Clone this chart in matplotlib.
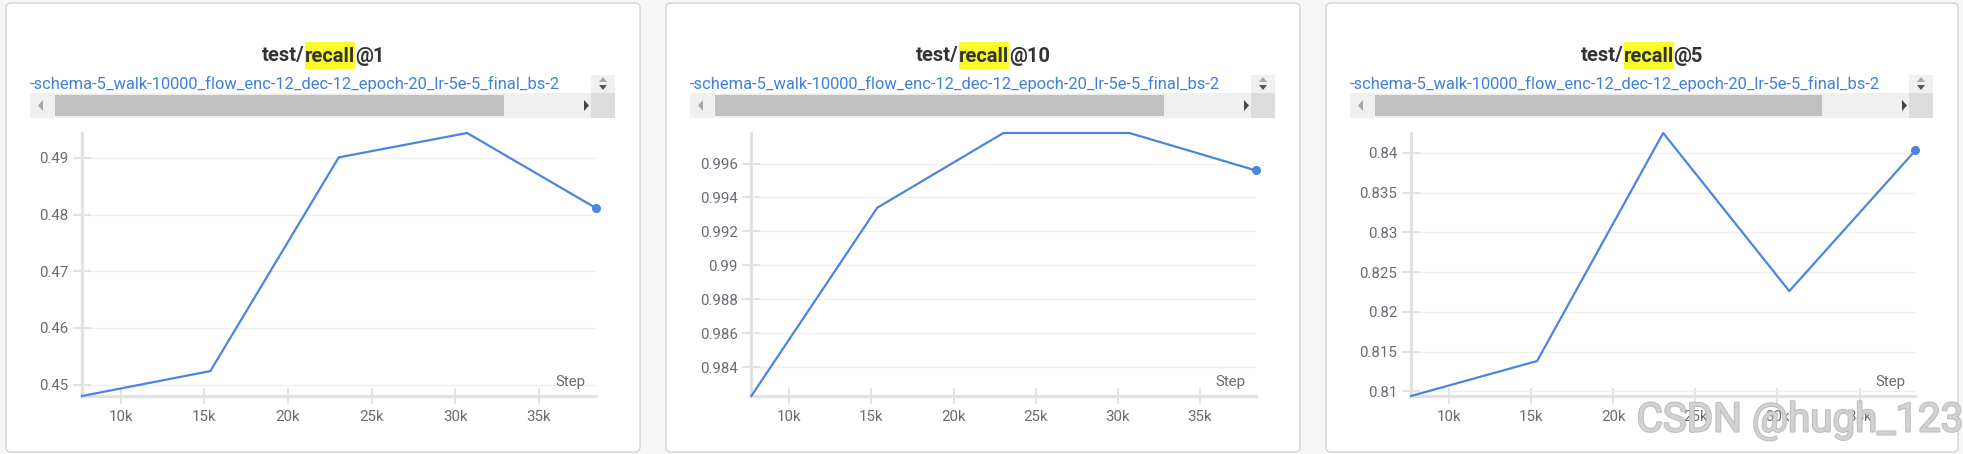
import numpy as np
import matplotlib
matplotlib.use("Agg")
import matplotlib.pyplot as plt
from matplotlib.patches import FancyBboxPatch, Rectangle, Polygon
from matplotlib.ticker import MultipleLocator, FuncFormatter
import matplotlib.patheffects as pe

plt.rcParams['font.family'] = ['Roboto', 'DejaVu Sans']

# ==================== data ====================
steps = [7680, 15360, 23040, 30720, 38400]
recall_1 = [0.4480, 0.4524, 0.4901, 0.4944, 0.4812]
recall_10 = [0.9823, 0.9934, 0.9978, 0.9978, 0.9956]
recall_5 = [0.8094, 0.8138, 0.8425, 0.8226, 0.8403]

titles = ["@1", "@10", "@5"]
run_name = "-schema-5_walk-10000_flow_enc-12_dec-12_epoch-20_lr-5e-5_final_bs-2"
y_steps = [0.01, 0.002, 0.005]
x_ticks = [10000, 15000, 20000, 25000, 30000, 35000]

# ==================== layout (pixels, top-left origin) ====================
W, H = 1963, 454
panels = [(6, 640), (666, 1300), (1326, 1958)]
axes_lr = [(82, 595.5), (751.3, 1255.5), (1411, 1915.4)]
ax_top, ax_bot = 133, 396

LINE = '#4a86e0'
GRID = '#efefef'
AXC = '#e2e2e2'
TXT = '#6b6b76'

fig = plt.figure(figsize=(W / 100, H / 100), dpi=100, facecolor='#f7f7f7')


def fx(x):
    return x / W


def fy(y):
    return 1 - y / H


def prect(x0, y0, x1, y1, color, z=1):
    fig.patches.append(Rectangle((fx(x0), fy(y1)), fx(x1) - fx(x0), fy(y0) - fy(y1),
                                 transform=fig.transFigure, color=color, zorder=z, lw=0))


def tri(pts, color):
    fig.patches.append(Polygon([(fx(a), fy(b)) for a, b in pts], closed=True,
                               transform=fig.transFigure, color=color, lw=0, zorder=3))


renderer = fig.canvas.get_renderer()

for i, (pl, pr) in enumerate(panels):
    # panel card
    card = FancyBboxPatch((pl, H - 452), pr - pl, 449, boxstyle="round,pad=0,rounding_size=5",
                          transform=None, facecolor='white', edgecolor='#d4d4d4', lw=1.0, zorder=-10)
    fig.patches.append(card)

    # title with highlighted "recall"
    cx = (pl + pr) / 2
    parts = ["test/", "recall", titles[i]]
    tobjs = [fig.text(0, fy(56), s, fontsize=14.5, fontweight='bold', color='#333333',
                      va='center', ha='left', zorder=5) for s in parts]
    widths = [t.get_window_extent(renderer).width for t in tobjs]
    x = cx - sum(widths) / 2
    for t, w, s in zip(tobjs, widths, parts):
        t.set_x(fx(x))
        if s == "recall":
            prect(x, 42, x + w, 69, '#fbfb2c', z=4)
        x += w

    # run name + scrollbar
    sl, sr = pl + 24, pr - 25
    prect(sr - 24, 75, sr, 93, '#f0f0f0', z=2)
    prect(sl, 93, sr - 24, 118, '#f0f0f0', z=2)
    prect(sr - 24, 93, sr, 118, '#dcdcdc', z=2)
    prect(sl + 25, 95, pr - 136, 116, '#c0c0c0', z=3)
    tri([(sl + 8, 105.5), (sl + 13, 100), (sl + 13, 111)], '#a8a8a8')
    tri([(sr - 31, 100), (sr - 31, 111), (sr - 26, 105.5)], '#444444')
    tri([(sr - 16, 82), (sr - 8, 82), (sr - 12, 77)], '#a8a8a8')
    tri([(sr - 16, 85), (sr - 8, 85), (sr - 12, 90)], '#555555')
    fig.text(fx(sl), fy(84), run_name, fontsize=11.85, color='#3f7fdc',
             va='center', ha='left', zorder=5)

    # plot area
    al, ar = axes_lr[i]
    ax = fig.add_axes([fx(al), fy(ax_bot), fx(ar) - fx(al), fy(ax_top) - fy(ax_bot)])
    ax.set_zorder(6)
    ax.set_facecolor('none')
    vals = [recall_1, recall_10, recall_5][i]
    ax.plot(steps, vals, color=LINE, lw=1.6, clip_on=False, zorder=3)
    ax.plot(steps[-1], vals[-1], 'o', color=LINE, ms=5.5, clip_on=False, zorder=4)
    ax.set_xlim(steps[0], steps[-1])
    ax.set_ylim(min(vals), max(vals))

    ax.yaxis.set_major_locator(MultipleLocator(y_steps[i]))
    ax.yaxis.set_major_formatter(FuncFormatter(lambda v, p: f"{round(v, 4):g}"))
    ax.set_xticks(x_ticks)
    ax.set_xticklabels([f"{int(v / 1000)}k" for v in x_ticks])
    ax.grid(axis='y', color=GRID, lw=0.9)
    ax.set_axisbelow(True)
    for s in ['top', 'right']:
        ax.spines[s].set_visible(False)
    for s in ['left', 'bottom']:
        ax.spines[s].set_color(AXC)
        ax.spines[s].set_linewidth(2.3)
    ax.tick_params(axis='x', direction='inout', length=12, width=1.4, color=AXC,
                   labelsize=10.8, labelcolor=TXT, pad=4)
    ax.tick_params(axis='y', direction='inout', length=13.5, width=1.4, color=AXC,
                   labelsize=10.8, labelcolor=TXT, pad=3)
    ax.text(1 - 10 / (ar - al), 14 / (ax_bot - ax_top), 'Step', transform=ax.transAxes,
            ha='right', va='center', fontsize=10.8, color=TXT)

# watermark
fig.text(fx(1800), fy(420), "CSDN @hugh_123", fontsize=29, color='#d2d2d2', ha='center',
         va='center', zorder=10,
         path_effects=[pe.withStroke(linewidth=1.5, foreground='#bdbdbd')])

fig.savefig("out.png", dpi=100, facecolor=fig.get_facecolor())
